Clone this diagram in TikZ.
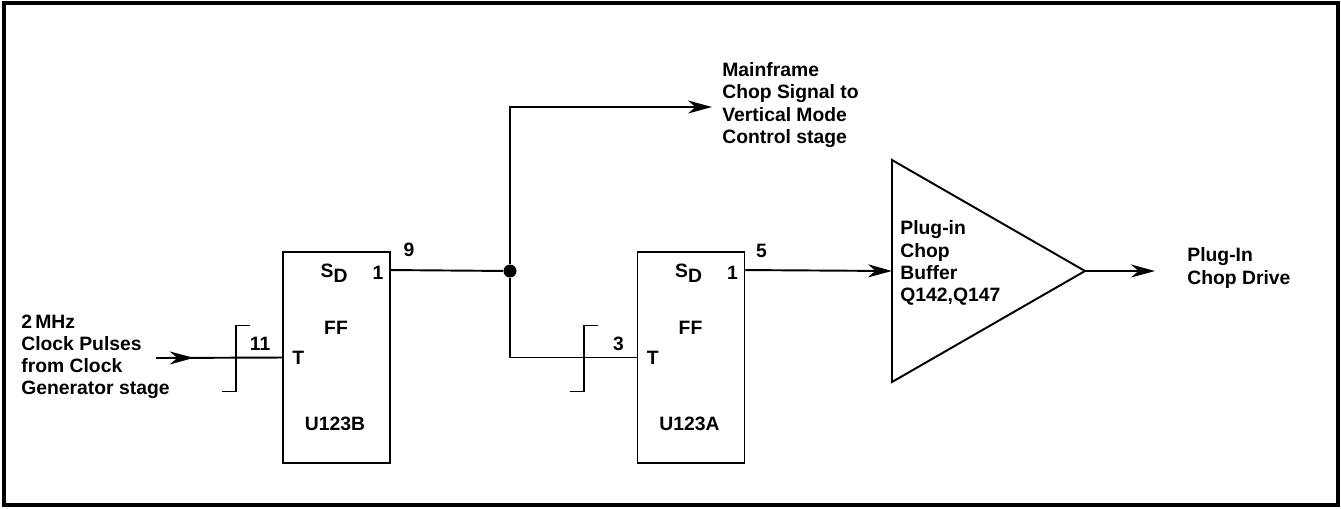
\documentclass[tikz,border=0pt]{standalone}
\usepackage{fontspec}
\setmainfont{Liberation Sans}
\usetikzlibrary{positioning,arrows.meta,calc,shapes.geometric,decorations.markings}

\begin{document}
\begin{tikzpicture}[
    x=0.2mm, y=-0.2mm,
    every node/.style={font=\bfseries\fontsize{11}{12.6}\selectfont},
    wire/.style={line width=1.1pt},
    flow/.style={wire, -{Stealth[length=4.8mm,width=2.6mm,inset=1.5mm]}},
    midflow/.style={
        wire,
        decoration={markings, mark=at position 0.3 with {\arrow{Stealth[length=4.8mm,width=2.6mm,inset=1.5mm]}}},
        postaction={decorate}
    },
    ffbox/.style={
        draw,
        line width=1.1pt,
        minimum width=21.4mm,
        minimum height=42.2mm,
        inner sep=0pt
    },
    buffer/.style={
        draw,
        line width=1.1pt,
        isosceles triangle,
        isosceles triangle stretches,
        minimum width=44.4mm,
        minimum height=38.6mm,
        inner sep=0pt,
        outer sep=0pt
    },
    junction/.style={circle, fill, inner sep=0pt, minimum size=2.6mm},
    pinlabel/.style={inner sep=0pt},
    textblock/.style={align=left, inner sep=0pt, anchor=west},
    pulsemark/.pic={\draw[wire] (-14,34) -- (0,34) -- (0,-32) -- (14,-32);}
]

\useasboundingbox (0,0) rectangle (1341,508);
\draw[line width=1.8pt] (4,3) rectangle (1338,505);

\node[ffbox] (ffB) at (336.5,357.5) {};
\node[ffbox] (ffA) at (691,357.5) {};
\node[buffer, anchor=apex] (buf) at (1085,271) {};
\node[junction] (tap) at (510,271) {};

\coordinate (ffBq) at ($(ffB.north east)+(0,19)$);
\coordinate (ffAq) at ($(ffA.north east)+(0,19)$);
\coordinate (clkin) at (156,358);
\coordinate (mfout) at (712,107);
\coordinate (plugout) at (1155,271);

\node[pinlabel, right=2mm of ffB.west] (ffBt) {T};
\node[pinlabel] (ffBs) at ($(ffB.north west)+(52,22)$) {S\raisebox{-0.45ex}{D}};
\node[pinlabel] (ffBone) at ($(ffB.north east)+(-13,22)$) {1};
\node[pinlabel] (ffBname) at ($(ffB.north west)+(54,77)$) {FF};
\node[pinlabel] (ffBid) at ($(ffB.south west)+(53,-40)$) {U123B};

\node[pinlabel, right=2mm of ffA.west] (ffAt) {T};
\node[pinlabel] (ffAs) at ($(ffA.north west)+(52,22)$) {S\raisebox{-0.45ex}{D}};
\node[pinlabel] (ffAone) at ($(ffA.north east)+(-13,22)$) {1};
\node[pinlabel] (ffAname) at ($(ffA.north west)+(54,77)$) {FF};
\node[pinlabel] (ffAid) at ($(ffA.south west)+(53,-40)$) {U123A};

\node[pinlabel] (pin11) at ($(ffB.west)+(-22,-14)$) {11};
\node[pinlabel] (pin9) at ($(ffBq)+(18,-20)$) {9};
\node[pinlabel] (pin3) at ($(ffA.west)+(-18,-14)$) {3};
\node[pinlabel] (pin5) at ($(ffAq)+(16,-19)$) {5};

\node[textblock] (clktext) at (21,357) {2\,MHz\\Clock Pulses\\from Clock\\Generator stage};
\node[textblock] (mftext) at (722,105) {Mainframe\\Chop Signal to\\Vertical Mode\\Control stage};
\node[textblock] (buftext) at (900,263) {Plug-in\\Chop\\Buffer\\Q142,Q147};
\node[textblock] (drivetext) at (1187,268) {Plug-In\\Chop Drive};

\pic at ($(ffB.west)+(-46,0)$) {pulsemark};
\pic at ($(ffA.west)+(-53,0)$) {pulsemark};

\draw[midflow] (clkin) -- (ffB.west);
\draw[wire] (ffBq) -- (tap);
\draw[flow] (tap) |- (mfout);
\draw[wire] (tap) |- (ffA.west);
\draw[flow] (ffAq) -- (buf.west);
\draw[flow] (buf.apex) -- (plugout);

\end{tikzpicture}
\end{document}
